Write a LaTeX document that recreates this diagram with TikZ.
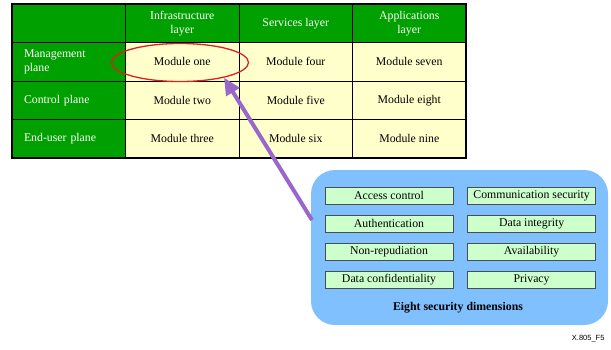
\documentclass[tikz,border=0pt]{standalone}
\usepackage{fontspec}
\setmainfont{Liberation Serif}
\newfontfamily\tagfont{Liberation Sans}
\usetikzlibrary{arrows.meta, positioning, shapes.geometric}
\definecolor{hdrgreen}{HTML}{00A000}
\definecolor{cellyellow}{HTML}{FFFFCC}
\definecolor{skyblue}{HTML}{80C0FF}
\definecolor{mint}{HTML}{CCFFCC}
\definecolor{violet}{HTML}{9966CC}
\definecolor{ringred}{HTML}{E02020}

\begin{document}
\begin{tikzpicture}[x=1pt, y=-1pt,
  >={Triangle[length=17pt, width=15pt]},
  hdr/.style={draw=black, line width=0.6pt, fill=hdrgreen, text=white,
    minimum width=113.5pt, minimum height=38.5pt, align=center, inner sep=2pt,
    font=\fontsize{11.8}{14}\selectfont},
  plane/.style={hdr, align=left, text width=89.5pt, inner xsep=12pt},
  cellbox/.style={draw=black, line width=0.6pt, fill=cellyellow,
    minimum width=113.5pt, minimum height=38.5pt, align=center, inner sep=2pt,
    font=\fontsize{11.8}{14}\selectfont},
  dimbox/.style={draw=black!70, line width=0.6pt, fill=mint,
    minimum width=128pt, minimum height=17pt, inner sep=1pt,
    font=\fontsize{11.8}{14}\selectfont},
  arr/.style={->, line width=4pt, violet},
]

% Frame
\useasboundingbox (0,0) rectangle (611,349);

% =============================================
% Table: planes x layers
% =============================================
\node[hdr] (corner) at (68.75,23.25) {};
\node[hdr] (infra) at (182.25,23.25) {Infrastructure\\layer};
\node[hdr] (serv) at (295.75,23.25) {Services layer};
\node[hdr] (appl) at (409.25,23.25) {Applications\\layer};

\node[plane] (mgmt) at (68.75,61.75) {Management\\plane};
\node[plane] (ctrl) at (68.75,100.25) {Control plane};
\node[plane] (user) at (68.75,138.75) {End-user plane};

\node[cellbox] (mod1) at (182.25,61.75) {Module one};
\node[cellbox] (mod2) at (182.25,100.25) {Module two};
\node[cellbox] (mod3) at (182.25,138.75) {Module three};
\node[cellbox] (mod4) at (295.75,61.75) {Module four};
\node[cellbox] (mod5) at (295.75,100.25) {Module five};
\node[cellbox] (mod6) at (295.75,138.75) {Module six};
\node[cellbox] (mod7) at (409.25,61.75) {Module seven};
\node[cellbox] (mod8) at (409.25,100.25) {Module eight};
\node[cellbox] (mod9) at (409.25,138.75) {Module nine};

% Outer border
\draw[line width=1.8pt] (corner.north west) rectangle (mod9.south east);

% Highlight ring round module one
\node[ellipse, draw=ringred, line width=1.3pt, minimum width=137pt,
  minimum height=38pt] (ring) at (180,62.5) {};

% =============================================
% Security dimensions
% =============================================
\node[fill=skyblue, rounded corners=24pt, minimum width=297pt,
  minimum height=155pt] (dims) at (459.5,247.5) {};

\node[dimbox] (access) at (389,195.5) {Access control};
\node[dimbox, below=10.5pt of access] (authn) {Authentication};
\node[dimbox, below=10.5pt of authn] (nonrep) {Non-repudiation};
\node[dimbox, below=10.5pt of nonrep] (conf) {Data confidentiality};

\node[dimbox, right=14pt of access] (comsec) {Communication security};
\node[dimbox, right=14pt of authn] (integ) {Data integrity};
\node[dimbox, right=14pt of nonrep] (avail) {Availability};
\node[dimbox, right=14pt of conf] (priv) {Privacy};

\node[font=\fontsize{11.8}{14}\selectfont\bfseries] (dimlabel) at (458,308)
  {Eight security dimensions};

% Arrow from the dimensions to the ring
\coordinate (tail) at (312,220);
\draw[arr] (tail) -- (ring.-19);

% Figure tag
\node[font=\tagfont\fontsize{7.5}{9}\selectfont, anchor=east] (tag) at (608,339)
  {X.805\_F5};

\end{tikzpicture}
\end{document}
